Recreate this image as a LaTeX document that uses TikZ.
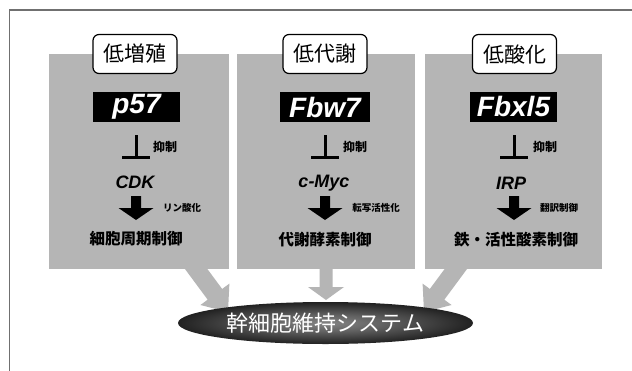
\documentclass[tikz,border=0pt]{standalone}
\usepackage{fontspec}
\setmainfont{Liberation Sans}
\newfontfamily\jp{Noto Sans CJK JP}
\usetikzlibrary{calc,shapes.geometric}
\definecolor{boxgray}{HTML}{B5B5B5}
\definecolor{framegray}{HTML}{707070}
\pgfdeclareradialshading{ellshade}{\pgfpoint{0bp}{0bp}}{color(0bp)=(black!48); color(10bp)=(black!62); color(28bp)=(black!92); color(38bp)=(black); color(50bp)=(black)}
\newcommand\blkarrow[6]{%
  \coordinate (tmpH) at ($(#3)!#6!(#2)$);
  \fill[#1] ($(#2)!#4!90:(#3)$) -- ($(tmpH)!#4!90:(#3)$) -- ($(tmpH)!#5!90:(#3)$)
    -- (#3) -- ($(tmpH)!#5!-90:(#3)$) -- ($(tmpH)!#4!-90:(#3)$) -- ($(#2)!#4!-90:(#3)$) -- cycle;}
\begin{document}
\begin{tikzpicture}[x=1pt,y=-1pt,
  panel/.style={fill=boxgray, draw=none, inner sep=0pt, minimum height=215pt},
  tag/.style={draw=black, line width=1.2pt, fill=white, rounded corners=6pt,
    minimum width=84pt, minimum height=39pt, inner sep=0pt, font=\jp\fontsize{21}{21}\selectfont},
  gene/.style={fill=black, text=white, minimum height=30pt, inner sep=0pt,
    font=\bfseries\itshape\fontsize{28}{28}\selectfont},
  midtxt/.style={font=\bfseries\itshape\fontsize{18}{18}\selectfont, inner sep=0pt},
  inhlbl/.style={font=\jp\bfseries\fontsize{12}{12}\selectfont, inner sep=0pt},
  arrlbl/.style={font=\jp\bfseries\fontsize{9.5}{9.5}\selectfont, inner sep=0pt},
  result/.style={font=\jp\bfseries\fontsize{15.5}{15.5}\selectfont, inner sep=0pt},
  inhib/.style={line width=3pt},
  blackarrow/.style={fill=black},
  grayarrow/.style={fill=boxgray}]
\useasboundingbox (0,0) rectangle (632,370);
\fill[white] (0,0) rectangle (632,370);
\draw[framegray, line width=1.4pt] (9.5,372) -- (9.5,10) -- (634,10);

% panels
\node[panel, minimum width=180pt] (p1) at (139,161.5) {};
\node[panel, minimum width=178pt] (p2) at (326,161.5) {};
\node[panel, minimum width=177pt] (p3) at (513.5,161.5) {};

% tags
\node[tag] (t1) at (135,54) {低増殖};
\node[tag] (t2) at (325,54) {低代謝};
\node[tag] (t3) at (514.5,54) {低酸化};

% genes
\node[gene, minimum width=87pt] (g1) at (136.5,107) {p57};
\node[gene, minimum width=90pt] (g2) at (325,107) {Fbw7};
\node[gene, minimum width=87pt] (g3) at (513.5,106.5) {Fbxl5};

% middle targets
\node[midtxt] (m1) at (135,182) {CDK};
\node[midtxt] (m2) at (324,183) {c-Myc};
\node[midtxt] (m3) at (511,183) {IRP};

% results
\node[result] (r1) at (136,239) {細胞周期制御};
\node[result] (r2) at (325,240) {代謝酵素制御};
\node[result] (r3) at (516,240) {鉄・活性酸素制御};

% inhibition symbols
\foreach \g/\c/\lx in {g1/136/165, g2/325/355, g3/514/545}{
  \coordinate (ia-\g) at (\c,135);
  \coordinate (ib-\g) at (\c,157);
  \draw[inhib] (ia-\g) -- (ib-\g);
  \draw[inhib] ($(ib-\g)+(-14,0)$) -- ($(ib-\g)+(14,0)$);
  \node[inhlbl] at (\lx,147) {抑制};
}

% black arrows
\foreach \c in {136,325,514}{
  \coordinate (bs\c) at (\c,196);
  \coordinate (bt\c) at (\c,220);
  \blkarrow{blackarrow}{bs\c}{bt\c}{5pt}{17.5pt}{12pt}
}
\node[arrlbl] at (182,208) {リン酸化};
\node[arrlbl] at (376,208) {転写活性化};
\node[arrlbl] at (559,208) {翻訳制御};

% gray arrows to the core
\coordinate (s1) at (191,262);
\coordinate (e1) at (228,312);
\coordinate (s2) at (326,265);
\coordinate (e2) at (326,300);
\coordinate (s3) at (461,262);
\coordinate (e3) at (424,312);
\blkarrow{grayarrow}{s1}{e1}{9pt}{18pt}{22pt}
\blkarrow{grayarrow}{s2}{e2}{6.5pt}{18pt}{13pt}
\blkarrow{grayarrow}{s3}{e3}{9pt}{18pt}{22pt}

% core ellipse
\node[ellipse, shading=ellshade, minimum width=295pt, minimum height=42pt, inner sep=0pt,
  text=white, font=\jp\fontsize{22}{22}\selectfont] (core) at (325.5,323) {幹細胞維持システム};
\end{tikzpicture}
\end{document}
